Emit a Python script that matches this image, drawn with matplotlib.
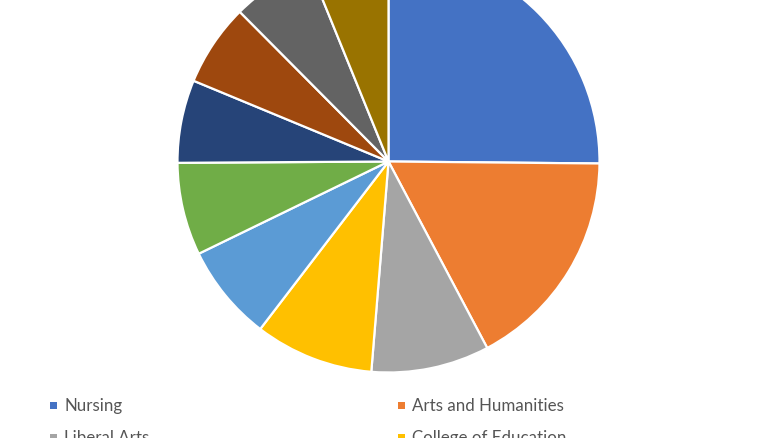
import matplotlib
matplotlib.use("Agg")
import matplotlib.pyplot as plt
from matplotlib.patches import Rectangle

# share of each college (percent)
colleges = ["Nursing", "Arts and Humanities", "Liberal Arts", "College of Education",
            "Business", "Science", "Engineering", "Health Sciences", "Social Work", "Other"]
shares = [25.15, 17.1, 9.05, 9.1, 7.4, 7.1, 6.35, 6.3, 6.3, 6.15]
colours = ["#4472C4", "#ED7D31", "#A5A5A5", "#FFC000", "#5B9BD5",
           "#70AD47", "#264478", "#9E480E", "#636363", "#997300"]

W, H = 780, 439
fig = plt.figure(figsize=(W / 100, H / 100), dpi=100)

# pie centre / radius in pixels (top-left origin)
cx, cy, r = 388.5, 162.5, 211
ax = fig.add_axes([(cx - r) / W, (H - cy - r) / H, 2 * r / W, 2 * r / H])
ax.pie(shares, colors=colours, startangle=90, counterclock=False, radius=1,
       wedgeprops=dict(edgecolor="white", linewidth=1.6))
ax.set_xlim(-1, 1)
ax.set_ylim(-1, 1)
ax.set_aspect("equal")
ax.axis("off")
for p in ax.patches:
    p.set_clip_on(False)

# legend, two columns, runs off the bottom of the picture
col_x = [50, 398]
row_y0, row_dy = 406, 32
for i, (lab, col) in enumerate(zip(colleges, colours)):
    x = col_x[i % 2]
    y = row_y0 + (i // 2) * row_dy
    fig.patches.append(Rectangle((x / W, (H - y - 3.5) / H), 7 / W, 7 / H,
                                 transform=fig.transFigure, facecolor=col,
                                 edgecolor="none"))
    fig.text((x + 14) / W, (H - y) / H, lab, fontsize=12.2, family="Lato",
             color="#555555", va="center", ha="left")

fig.savefig("out.png", dpi=100, facecolor="white")
